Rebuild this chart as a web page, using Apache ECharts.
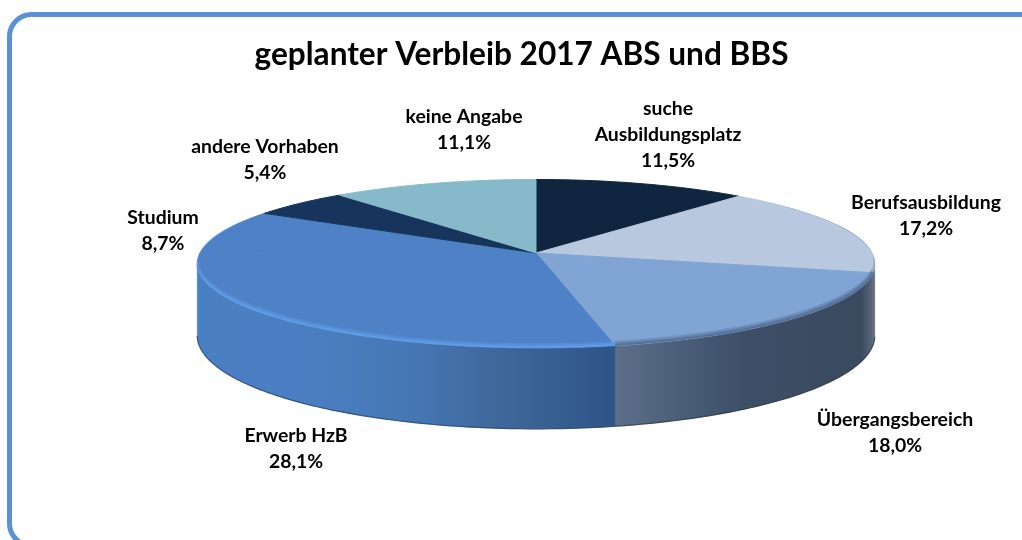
<!DOCTYPE html>
<html><head><meta charset="utf-8">
<style>html,body{margin:0;padding:0;background:#fff}#c{width:1022px;height:540px}</style>
<script src="https://cdn.jsdelivr.net/npm/echarts@6/dist/echarts.min.js"></script>
</head><body><div id="c"></div>
<script>
const titleText = 'geplanter Verbleib 2017 ABS und BBS';
const categories = ['suche\nAusbildungsplatz','Berufsausbildung','Übergangsbereich','Erwerb HzB','Studium','andere Vorhaben','keine Angabe'];
const values = [11.5,17.2,18.0,28.1,8.7,5.4,11.1];
const topColors = ['#10253f','#b7c8df','#80a5d4','#4f81c6','#4f81c6','#17355c','#86bacb'];

// layout only (projection of the tilted disc, label anchors)
const FONT = 'Lato, Carlito, sans-serif';
const CX = 536, CY = 253, R = 336, RY = 82.9, K = 0.1276, WALL = 70.5;
const labelAnchors = [[668,135],[926,216],[895,433],[296,449],[163,231],[265,160],[464,130]];
const total = values.reduce((a,b)=>a+b,0);
function proj(deg){
  const t = deg*Math.PI/180, X = Math.sin(t), Y = -Math.cos(t), s = 1/(1-K*Y);
  return {x:CX+R*X*s, y:CY+RY*Y*s, s, Y};
}
function arc(a0,a1){
  const n = Math.max(2,Math.ceil((a1-a0)/1)), out=[];
  for(let i=0;i<=n;i++) out.push(proj(a0+(a1-a0)*i/n));
  return out;
}
const grad = (x0,x1,stops)=>({type:'linear',x:x0,y:0,x2:x1,y2:0,global:true,
  colorStops:stops.map(s=>({offset:s[0],color:s[1]}))});
const blueWall = grad(197,612,[[0,'#4a7fc2'],[0.25,'#4a7fc3'],[0.5,'#4678b4'],[0.75,'#3e6699'],[1,'#2f5587']]);
const wallFills = [
  '#3a4a5f','#5d6b7c',
  grad(612,874,[[0,'#5e7089'],[0.25,'#4b5f79'],[0.5,'#3d4f67'],[0.95,'#3a4a5f'],[1,'#5d6b7c']]),
  blueWall,blueWall,blueWall,blueWall
];
const wallEdge = ['#2a3646','#2a3646','#2a3748','#24456f','#24456f','#24456f','#24456f'];
const bevel = ['#10253f','#8f9cae','#4f6a90','#62a0ea','#62a0ea','#17355c','#86bacb'];

function renderItem(params, api){
  const i = params.dataIndex;
  let before = 0;
  for(let j=0;j<i;j++) before += values[j];
  const a0 = before/total*360, a1 = (before+api.value(0))/total*360;
  const rim = arc(a0,a1), kids = [];
  // side wall, only on the part of the rim that faces the viewer
  const vis = rim.filter(p=>p.Y>=K);
  if(vis.length>1){
    const low = vis.map(p=>[p.x,p.y+WALL*p.s]);
    kids.push({type:'polygon',z2:1,shape:{points:vis.map(p=>[p.x,p.y]).concat(low.slice().reverse())},
      style:{fill:wallFills[i],stroke:wallFills[i],lineWidth:0.5}});
    kids.push({type:'polyline',z2:2,shape:{points:low},style:{fill:null,stroke:wallEdge[i],lineWidth:1.2,opacity:0.8}});
  }
  // top face
  kids.push({type:'polygon',z2:3,shape:{points:[[CX,CY]].concat(rim.map(p=>[p.x,p.y]))},
    style:{fill:topColors[i],stroke:topColors[i],lineWidth:1}});
  // bevelled edge, in nested bands
  [[1,0.3],[0.66,0.45],[0.33,0.7]].forEach(([w,op],b)=>{
    const pts = rim.filter(p=>p.Y>-0.6);
    if(pts.length<2) return;
    const inner = pts.map(p=>{
      const th = 5*w*Math.min(1,(p.Y+0.6)/1.0);
      return [CX+(p.x-CX)*(1-0.004*w), p.y-th];
    });
    kids.push({type:'polygon',z2:4+b,shape:{points:pts.map(p=>[p.x,p.y]).concat(inner.reverse())},
      style:{fill:bevel[i],opacity:op}});
  });
  // label
  const lab = labelAnchors[i];
  kids.push({type:'text',z2:10,x:lab[0],y:lab[1],style:{
    text:categories[i]+'\n'+api.value(0).toFixed(1).replace('.',',')+'%',
    align:'center',verticalAlign:'middle',font:'bold 19.4px '+FONT,lineHeight:26,fill:'#000'}});
  return {type:'group',children:kids};
}

const chart = echarts.init(document.getElementById('c'),null,{renderer:'canvas'});
chart.setOption({
  animation:false,
  backgroundColor:'#fff',
  title:{text:titleText,left:516.5,top:34,textAlign:'center',
    textStyle:{fontFamily:FONT,fontWeight:'bold',fontSize:31.6,color:'#000'}},
  graphic:[{type:'rect',z:-1,silent:true,shape:{x:9.5,y:14.5,width:1040,height:531,r:22},
    style:{fill:'#fff',stroke:'#5a90d8',lineWidth:5}}],
  series:[{type:'custom',coordinateSystem:'none',silent:true,renderItem,
    data:values.map((v,i)=>({name:categories[i],value:[v]}))}]
});
</script></body></html>
